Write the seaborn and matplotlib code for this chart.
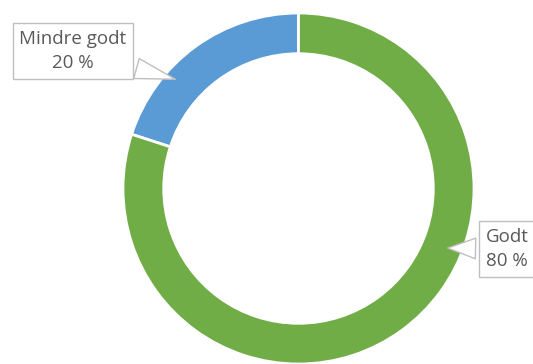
import matplotlib
matplotlib.use("Agg")
import matplotlib.pyplot as plt
import seaborn as sns

# ── Data ─────────────────────────────────────────────────────────────────────
labels = ["Mindre godt", "Godt"]
shares = [20, 80]
colors = ["#5B9BD5", "#70AD47"]

sns.set_theme(style="white")
plt.rcParams["font.family"] = ["Open Sans", "DejaVu Sans"]

W, H = 533, 364
CX, CY, R = 298.5, 188.5, 175.5   # ring centre / radius in pixels

fig = plt.figure(figsize=(W / 100, H / 100), dpi=100)
ax = fig.add_axes([0, 0, 1, 1])

wedges, _ = ax.pie(shares, colors=colors, startangle=90, counterclock=True,
                   radius=1, wedgeprops={"width": 0.232, "edgecolor": "white",
                                         "linewidth": 2})
ax.set_xlim(-CX / R, (W - CX) / R)
ax.set_ylim(-(H - CY) / R, CY / R)
ax.set_aspect("equal")
ax.axis("off")


def px(x, y):
    return (x - CX) / R, (CY - y) / R


# callout labels: text position and pointer tip, in pixels
callouts = [((73, 51), (178, 80)), ((507, 249), (445, 248))]
for lab, val, ((tx, ty), (ax_, ay)) in zip(labels, shares, callouts):
    ax.annotate(f"{lab}\n{val} %", xy=px(ax_, ay), xytext=px(tx, ty),
                ha="center", va="center", fontsize=13.5, color="#595959",
                linespacing=1.4,
                bbox=dict(boxstyle="square,pad=0.36", fc="white",
                          ec="#BFBFBF", lw=1),
                arrowprops=dict(arrowstyle="wedge,tail_width=1.1,shrink_factor=0.5",
                                fc="white", ec="#BFBFBF", lw=1))

plt.savefig("out.png", dpi=100)
plt.close()
